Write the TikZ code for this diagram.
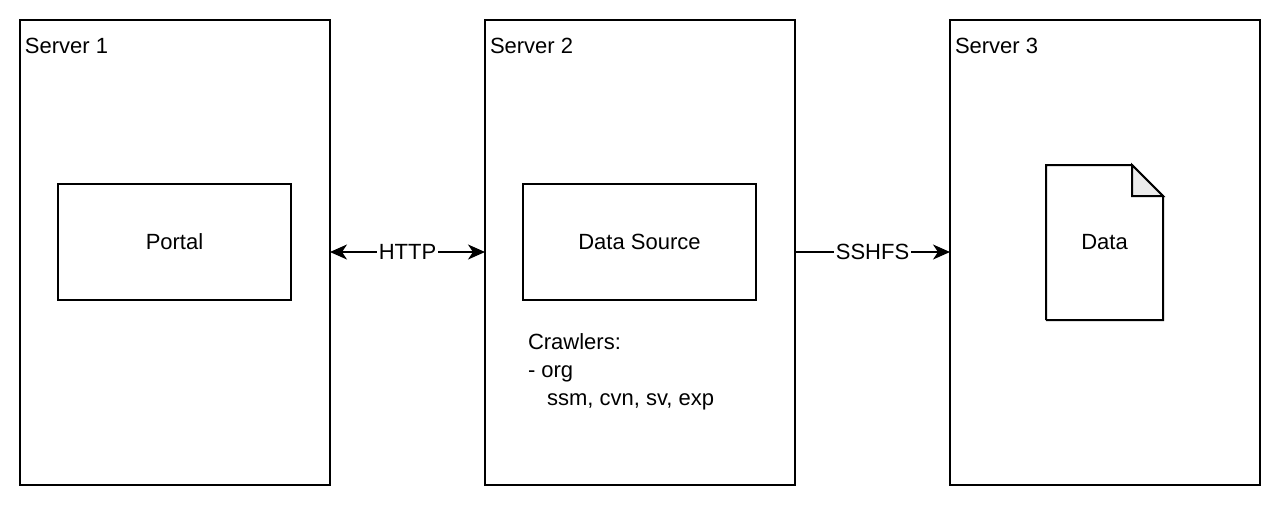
\documentclass[tikz,border=0pt]{standalone}
\usepackage{fontspec}
\setmainfont{Liberation Sans}
\usepackage{tikz}
\usetikzlibrary{arrows.meta,calc,positioning}

\tikzset{
	server/.style={draw,minimum width=155pt,minimum height=232.5pt,inner sep=0pt,outer sep=0pt},
	box/.style={draw,minimum width=116.5pt,minimum height=58pt,inner sep=0pt,outer sep=0pt},
	tag/.style={anchor=north west,inner sep=0pt,xshift=2pt,yshift=-8.5pt},
}

\begin{document}
\begin{tikzpicture}[>={Stealth[length=8.5pt,width=7.5pt,inset=2.5pt]},x=0.5pt,y=-0.5pt,node distance=77.5pt,line width=1pt,
		font=\fontsize{11}{14}\selectfont,align=center]
		\useasboundingbox (0,0) rectangle (1280,505);
		% servers
		\node[server] (s_1) at (175,252.5) {};
		\node[server] [right=of s_1] (s_2) {};
		\node[server] [right=of s_2] (s_3) {};
		\node[tag] (t_1) at (s_1.north west) {Server 1};
		\node[tag] (t_2) at (s_2.north west) {Server 2};
		\node[tag] (t_3) at (s_3.north west) {Server 3};
		% inside
		\node[box] (portal) at (174.5,242) {Portal};
		\node[box] (source) at (639.5,242) {Data Source};
		\node[anchor=north west,inner sep=0pt,align=left] (crawl) at (527,333)
			{Crawlers:\\- org\\\hspace{9.5pt}ssm, cvn, sv, exp};
		\node[minimum width=58.5pt,minimum height=77.5pt,inner sep=0pt,outer sep=0pt] (data) at (1104.5,242.5) {Data};
		\draw[line join=miter] (data.south west) |- ($(data.north east)+(-31,0)$) -- ($(data.north east)+(0,31)$) |- (data.south west);
		\draw[fill=black!8,line join=miter] ($(data.north east)+(-31,0)$) |- ($(data.north east)+(0,31)$) -- cycle;
		% links
		\path[<->] (s_1.east |- 0,252) edge node[fill=white,inner sep=1pt] {HTTP} (s_2.west |- 0,252);
		\path[->] (s_2.east |- 0,252) edge node[fill=white,inner sep=1pt] {SSHFS} (s_3.west |- 0,252);
	\end{tikzpicture}
\end{document}
